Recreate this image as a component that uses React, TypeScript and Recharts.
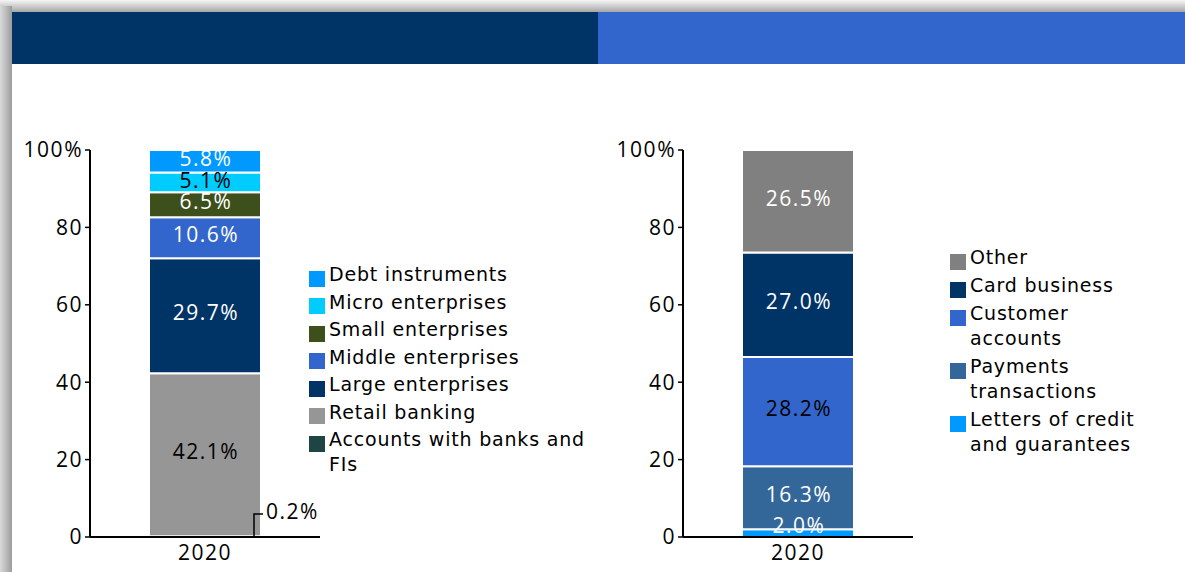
import { BarChart, Bar, XAxis, YAxis, Legend, LabelList } from "recharts"

const categories = ["2020"]

const leftSeries = [
	"Accounts with banks and FIs",
	"Retail banking",
	"Large enterprises",
	"Middle enterprises",
	"Small enterprises",
	"Micro enterprises",
	"Debt instruments",
]
const leftValues = [0.2, 42.1, 29.7, 10.6, 6.5, 5.1, 5.8]
const leftColors = ["#1f4444", "#969696", "#003366", "#3366cc", "#3d4f1b", "#00ccff", "#0099ff"]
const leftLabelColors = ["#000", "#000", "#fff", "#fff", "#fff", "#000", "#fff"]

const rightSeries = [
	"Letters of credit and guarantees",
	"Payments transactions",
	"Customer accounts",
	"Card business",
	"Other",
]
const rightValues = [2.0, 16.3, 28.2, 27.0, 26.5]
const rightColors = ["#0099ff", "#336699", "#3366cc", "#003366", "#808080"]
const rightLabelColors = ["#fff", "#fff", "#000", "#fff", "#fff"]

const yTicks = [0, 20, 40, 60, 80, 100]

const tickStyle = {
	fontSize: 21,
	fill: "#000",
	fontFamily: "Open Sans",
	letterSpacing: 1.5,
}

const buildRows = (series: string[], values: number[]) =>
	categories.map((c) => {
		const row: Record<string, string | number> = { name: c }
		series.forEach((s, i) => {
			row[s] = values[i]
		})
		return row
	})

const makeLabel = (color: string) => (props: any) => {
	const { x, y, width, height, value } = props
	const v = Number(value)
	const text = `${v.toFixed(1)}%`
	const font = { fontFamily: "Open Sans", fontSize: 21, letterSpacing: 1.5 }
	if (v < 1) {
		// tiny slice: label sits outside with a leader line
		const bx = x + width - 7
		const by = y + height
		return (
			<g>
				<path d={`M${bx},${by} V${by - 23} H${bx + 9}`} stroke="#000" strokeWidth={1.5} fill="none" />
				<text x={bx + 12} y={by - 26} fill="#000" dominantBaseline="central" style={font}>
					{text}
				</text>
			</g>
		)
	}
	const cy = height < 20 ? y + height - 12 : y + height / 2 - 3.5
	return (
		<text x={x + width / 2 + 1} y={cy} fill={color} textAnchor="middle" dominantBaseline="central" style={font}>
			{text}
		</text>
	)
}

const makeLegend = (order: string[], textWidth: number, gap: number) => (props: any) => {
	const items = [...(props.payload || [])].sort(
		(a: any, b: any) => order.indexOf(b.value) - order.indexOf(a.value)
	)
	return (
		<div style={{ fontFamily: "DejaVu Sans", fontSize: 19, letterSpacing: 0.8, color: "#000" }}>
			{items.map((e: any) => (
				<div key={e.value} style={{ display: "flex", alignItems: "flex-start", marginBottom: gap }}>
					<span
						style={{
							width: 16,
							height: 16,
							background: e.color,
							marginTop: 8.5,
							marginRight: 4,
							flexShrink: 0,
						}}
					/>
					<span style={{ width: textWidth, lineHeight: "25px" }}>{e.value}</span>
				</div>
			))}
		</div>
	)
}

interface StackProps {
	series: string[]
	values: number[]
	colors: string[]
	labelColors: string[]
	width: number
	marginRight: number
	legendLeft: number
	legendTop: number
	legendTextWidth: number
	legendGap: number
}

const StackChart = ({
	series,
	values,
	colors,
	labelColors,
	width,
	marginRight,
	legendLeft,
	legendTop,
	legendTextWidth,
	legendGap,
}: StackProps) => (
	<BarChart
		width={width}
		height={572}
		data={buildRows(series, values)}
		margin={{ top: 150, right: marginRight, bottom: 5, left: 30 }}
	>
		<XAxis
			dataKey="name"
			axisLine={{ stroke: "#000", strokeWidth: 2 }}
			tickLine={false}
			tick={tickStyle}
			height={30}
		/>
		<YAxis
			domain={[0, 100]}
			ticks={yTicks}
			width={60}
			interval={0}
			axisLine={{ stroke: "#000", strokeWidth: 2 }}
			tickLine={{ stroke: "#000", strokeWidth: 1.5 }}
			tickSize={5}
			tick={tickStyle}
			tickFormatter={(v: number) => (v === 100 ? "100%" : `${v}`)}
		/>
		<Legend
			layout="vertical"
			align="center"
			verticalAlign="middle"
			wrapperStyle={{ left: legendLeft, top: legendTop, width: legendTextWidth + 30 }}
			content={makeLegend(series, legendTextWidth, legendGap)}
		/>
		{series.map((s, i) => (
			<Bar
				key={s}
				dataKey={s}
				stackId="a"
				fill={colors[i]}
				stroke="#fff"
				strokeWidth={2}
				barSize={112}
				isAnimationActive={false}
			>
				<LabelList dataKey={s} content={makeLabel(labelColors[i])} />
			</Bar>
		))}
	</BarChart>
)

const App = () => (
	<div
		style={{
			position: "absolute",
			left: 0,
			top: 0,
			width: 1185,
			height: 572,
			background: "#fff",
			overflow: "hidden",
		}}
	>
		<div
			style={{
				position: "absolute",
				left: 0,
				top: 0,
				width: 1185,
				height: 12,
				background: "linear-gradient(to bottom, #f6f6f6, #a6a6a6)",
			}}
		/>
		<div
			style={{
				position: "absolute",
				left: 0,
				top: 6,
				width: 12,
				height: 566,
				background: "linear-gradient(to right, #dadada, #9c9c9c)",
			}}
		/>
		<div style={{ position: "absolute", left: 12, top: 12, width: 586, height: 52, background: "#003366" }} />
		<div style={{ position: "absolute", left: 598, top: 12, width: 587, height: 52, background: "#3366cc" }} />
		<div style={{ position: "absolute", left: 0, top: 0 }}>
			<StackChart
				series={leftSeries}
				values={leftValues}
				colors={leftColors}
				labelColors={leftLabelColors}
				width={600}
				marginRight={280}
				legendLeft={309}
				legendTop={262}
				legendTextWidth={265}
				legendGap={2.5}
			/>
		</div>
		<div style={{ position: "absolute", left: 593, top: 0 }}>
			<StackChart
				series={rightSeries}
				values={rightValues}
				colors={rightColors}
				labelColors={rightLabelColors}
				width={592}
				marginRight={272}
				legendLeft={357}
				legendTop={245}
				legendTextWidth={175}
				legendGap={3}
			/>
		</div>
	</div>
)

export default App
